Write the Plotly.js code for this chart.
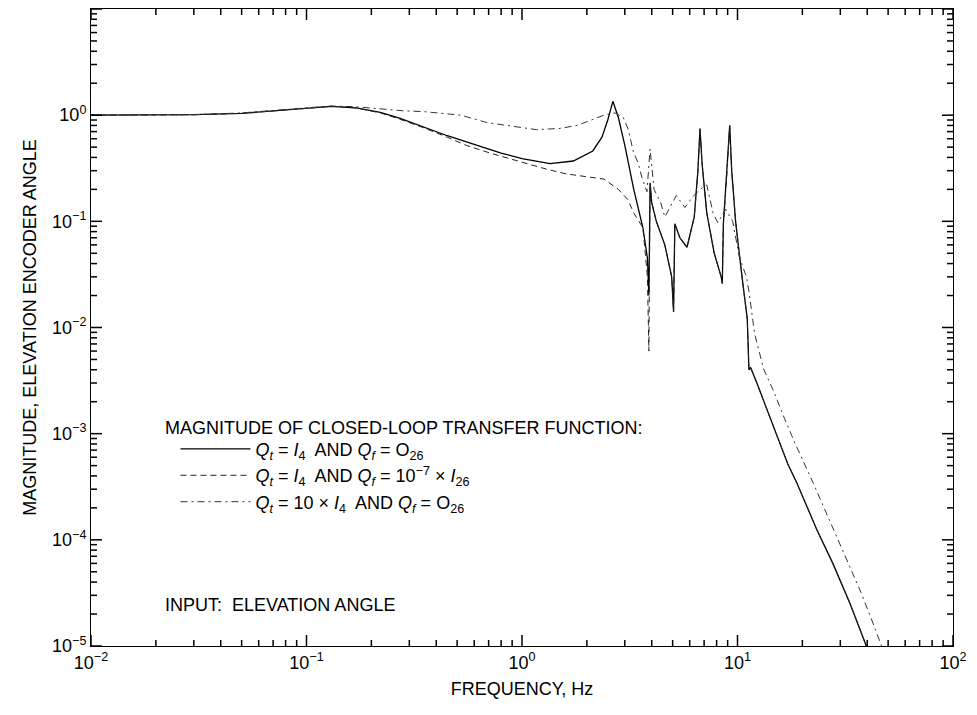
<!DOCTYPE html>
<html><head><meta charset="utf-8">
<script src="https://cdn.plot.ly/plotly-3.0.1.min.js"></script>
<style>html,body{margin:0;padding:0;background:#fff}#chart{width:977px;height:715px}</style>
</head><body><div id="chart"></div>
<script>
// Series 1: Qt = I4 and Qf = O26 (solid)
const freqSolid = [0.01,0.02,0.03,0.05,0.07,0.1,0.13,0.17,0.22,0.27,0.35,0.45,0.62,0.8,1.0,1.35,1.73,2.13,2.35,2.5,2.64,2.8,3.0,3.3,3.64,3.82,3.88,3.93,4.0,4.2,4.6,4.95,5.05,5.12,5.4,5.83,6.3,6.55,6.7,6.85,7.2,7.8,8.4,8.5,8.6,8.9,9.2,9.4,9.8,10.4,11.1,11.3,11.5,12.3,13.7,15.3,17.1,18.9,23.4,27.7,33.3,40];
const magSolid  = [1.0,1.0,1.01,1.04,1.1,1.17,1.21,1.17,1.06,0.94,0.77,0.64,0.52,0.44,0.39,0.35,0.37,0.46,0.62,0.9,1.35,0.95,0.52,0.2,0.087,0.045,0.02,0.23,0.15,0.1,0.06,0.03,0.014,0.095,0.07,0.057,0.11,0.3,0.75,0.35,0.12,0.05,0.03,0.026,0.095,0.25,0.8,0.3,0.1,0.035,0.012,0.004,0.0042,0.003,0.0017,0.00092,0.00052,0.00034,0.000123,0.00006,0.000025,0.0000095];

// Series 2: Qt = I4 and Qf = 1e-7 x I26 (dashed)
const freqDashed = [0.01,0.02,0.03,0.05,0.07,0.1,0.13,0.17,0.22,0.27,0.35,0.45,0.55,0.71,1.05,1.3,1.6,2.0,2.4,2.8,3.1,3.3,3.5,3.64,3.82,3.88,3.93,4.0,4.2,4.6,4.95,5.05,5.12,5.4,5.83,6.3,6.55,6.7,6.85,7.2,7.8,8.4,8.5,8.6,8.9,9.2,9.4,9.8,10.4,11.1,11.3,11.5,12.3,13.7,15.3,17.1,18.9,23.4,27.7,33.3,40];
const magDashed  = [1.0,1.0,1.01,1.04,1.1,1.17,1.21,1.17,1.05,0.92,0.76,0.62,0.52,0.44,0.35,0.31,0.28,0.265,0.25,0.2,0.16,0.12,0.1,0.087,0.03,0.006,0.23,0.15,0.1,0.06,0.03,0.014,0.095,0.07,0.057,0.11,0.3,0.75,0.35,0.12,0.05,0.03,0.026,0.095,0.25,0.8,0.3,0.1,0.035,0.012,0.004,0.0042,0.003,0.0017,0.00092,0.00052,0.00034,0.000123,0.00006,0.000025,0.0000095];

// Series 3: Qt = 10 x I4 and Qf = O26 (dash-dot)
const freqDashDot = [0.01,0.02,0.03,0.05,0.07,0.1,0.13,0.17,0.22,0.28,0.35,0.52,0.69,1.0,1.17,1.5,1.8,2.1,2.4,2.7,2.95,3.1,3.3,3.45,3.6,3.8,3.93,4.1,4.4,4.6,5.2,5.7,6.2,6.7,7.2,7.7,8.1,8.8,9.5,10.2,11.0,11.3,12.0,13.2,14.6,16.5,18.5,22.5,27.3,32.9,37.4,41.8,46.6];
const magDashDot  = [1.0,1.0,1.01,1.05,1.11,1.18,1.22,1.2,1.14,1.1,1.08,1.0,0.85,0.76,0.73,0.75,0.8,0.9,1.0,1.05,0.95,0.75,0.44,0.36,0.26,0.19,0.48,0.2,0.15,0.11,0.175,0.135,0.17,0.2,0.22,0.12,0.097,0.13,0.1,0.046,0.03,0.022,0.0088,0.0041,0.0026,0.0014,0.00081,0.00034,0.00014,0.000059,0.000032,0.000018,0.00001];

const xTickVals = [0.01,0.1,1,10,100];
const xTickText = ['10<sup>−2</sup>','10<sup>−1</sup>','10<sup>0</sup>','10<sup>1</sup>','10<sup>2</sup>'];
const yTickVals = [1e-5,1e-4,1e-3,1e-2,1e-1,1,10];
const yTickText = ['10<sup>−5</sup>','10<sup>−4</sup>','10<sup>−3</sup>','10<sup>−2</sup>','10<sup>−1</sup>','10<sup>0</sup>','10<sup>1</sup>'];

const legendNames = [
  '<i>Q<sub>t</sub></i> = <i>I</i><sub>4</sub>  AND <i>Q<sub>f</sub></i> = O<sub>26</sub>',
  '<i>Q<sub>t</sub></i> = <i>I</i><sub>4</sub>  AND <i>Q<sub>f</sub></i> = 10<sup>−7</sup> × <i>I</i><sub>26</sub>',
  '<i>Q<sub>t</sub></i> = 10 × <i>I</i><sub>4</sub>  AND <i>Q<sub>f</sub></i> = O<sub>26</sub>'
];

function minorVals(majorVals) {
  const v = [];
  for (let i = 0; i < majorVals.length - 1; i++) for (let k = 2; k <= 9; k++) v.push(k * majorVals[i]);
  return v;
}

const FONT = 'Liberation Sans, Arial, Helvetica, sans-serif';
const FS = 18;
const MARGIN = {l: 91, r: 24, t: 9, b: 69};
const PLOT_W = 977 - MARGIN.l - MARGIN.r;
const PLOT_H = 715 - MARGIN.t - MARGIN.b;

// inward-pointing tick marks on all four sides, placed through the axis scales
const tickShapes = [];
function xTicks(vals, len) {
  const f = len / PLOT_H;
  vals.forEach(v => {
    tickShapes.push({type: 'line', layer: 'above', xref: 'x', yref: 'paper', x0: v, x1: v, y0: 0, y1: f, line: {color: '#000', width: 1.5}});
    tickShapes.push({type: 'line', layer: 'above', xref: 'x', yref: 'paper', x0: v, x1: v, y0: 1, y1: 1 - f, line: {color: '#000', width: 1.5}});
  });
}
function yTicks(vals, len) {
  const f = len / PLOT_W;
  vals.forEach(v => {
    tickShapes.push({type: 'line', layer: 'above', xref: 'paper', yref: 'y', x0: 0, x1: f, y0: v, y1: v, line: {color: '#000', width: 1.5}});
    tickShapes.push({type: 'line', layer: 'above', xref: 'paper', yref: 'y', x0: 1, x1: 1 - f, y0: v, y1: v, line: {color: '#000', width: 1.5}});
  });
}
xTicks(xTickVals, 11); xTicks(minorVals(xTickVals), 6);
yTicks(yTickVals, 11); yTicks(minorVals(yTickVals), 6);

const traces = [
  {x: freqSolid, y: magSolid, name: legendNames[0], mode: 'lines',
   line: {color: '#000', width: 1.3}},
  {x: freqDashed, y: magDashed, name: legendNames[1], mode: 'lines',
   line: {color: '#222', width: 1, dash: '6px,4px'}},
  {x: freqDashDot, y: magDashDot, name: legendNames[2], mode: 'lines',
   line: {color: '#333', width: 1, dash: '7px,4px,2px,4px'}}
];

const layout = {
  width: 977, height: 715,
  paper_bgcolor: '#fff', plot_bgcolor: '#fff',
  margin: MARGIN,
  showlegend: true,
  font: {family: FONT, color: '#000', size: FS},
  xaxis: {
    type: 'log', range: [-2, 2], showgrid: false, zeroline: false,
    showline: true, linecolor: '#000', linewidth: 1, mirror: true,
    tickmode: 'array', tickvals: xTickVals, ticktext: xTickText,
    ticks: '', tickfont: {family: FONT, size: FS, color: '#000'},
    title: {text: 'FREQUENCY, Hz', font: {family: FONT, size: FS, color: '#000'}, standoff: 10}
  },
  yaxis: {
    type: 'log', range: [-5, 1], showgrid: false, zeroline: false,
    showline: true, linecolor: '#000', linewidth: 1, mirror: true,
    tickmode: 'array', tickvals: yTickVals, ticktext: yTickText,
    ticks: '', tickfont: {family: FONT, size: FS, color: '#000'},
    title: {text: 'MAGNITUDE, ELEVATION ENCODER ANGLE', font: {family: FONT, size: FS, color: '#000'}, standoff: 10}
  },
  legend: {
    x: 0.098, y: 0.338, xanchor: 'left', yanchor: 'top',
    bgcolor: 'rgba(0,0,0,0)', borderwidth: 0,
    itemwidth: 70, tracegroupgap: 0,
    font: {family: FONT, size: FS, color: '#000'}
  },
  shapes: tickShapes,
  annotations: [
    {xref: 'paper', yref: 'paper', x: (163-91)/862, y: (646-428)/637, xanchor: 'left', yanchor: 'middle',
     text: 'MAGNITUDE OF CLOSED-LOOP TRANSFER FUNCTION:', showarrow: false,
     font: {family: FONT, size: FS, color: '#000'}},
    {xref: 'paper', yref: 'paper', x: (163-91)/862, y: (646-605)/637, xanchor: 'left', yanchor: 'middle',
     text: 'INPUT:  ELEVATION ANGLE', showarrow: false,
     font: {family: FONT, size: FS, color: '#000'}}
  ]
};

Plotly.newPlot('chart', traces, layout, {displayModeBar: false});
</script>
</body></html>
